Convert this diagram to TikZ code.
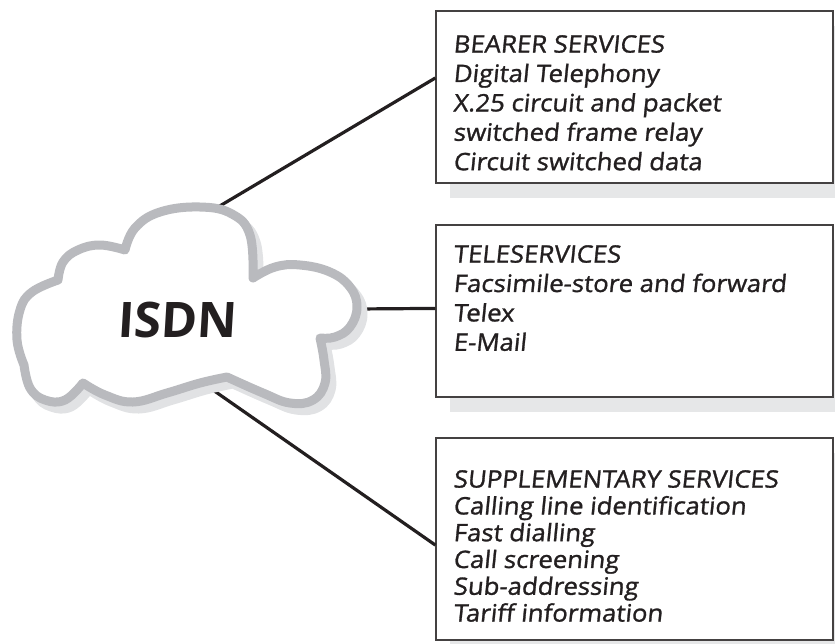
\documentclass[tikz,border=0pt]{standalone}
\usepackage{fontspec}
\setmainfont{Open Sans}
\newfontfamily\boxfont{Open Sans}[FakeSlant=0.1, FakeBold=1.2, FakeStretch=1.07]
\newfontfamily\bigfont{Open Sans}[FakeSlant=0.06]
\usetikzlibrary{calc}
\definecolor{inkc}{HTML}{231F20}
\definecolor{cloudband}{HTML}{B9BABE}
\definecolor{cloudshadow}{HTML}{E1E2E4}
\definecolor{boxshadow}{HTML}{E6E7E8}
\tikzset{
  svcbox/.style={draw=inkc!85, line width=1.2pt, fill=white, minimum width=397pt, inner sep=0pt},
  svctext/.style={anchor=north west, inner sep=0pt, align=left, text=inkc,
     font=\boxfont\fontsize{24}{29.4}\selectfont},
  conn/.style={draw=inkc, line width=3.2pt},
}
\def\cloudpath{(58,280)
 -- plot[smooth, tension=0.7] coordinates {(58,280) (63,262) (78,250) (100,245) (125,250)}
 -- plot[smooth, tension=0.7] coordinates {(125,250) (135,228) (160,212) (200,207) (232,214) (250,235) (253,278)}
 -- plot[smooth, tension=0.7] coordinates {(253,278) (275,267) (300,265) (330,272) (350,287) (357,307) (350,327) (335,337) (320,338)}
 -- plot[smooth, tension=0.7] coordinates {(320,338) (324,360) (325,383) (313,400) (290,403) (263,393) (227,377)}
 -- plot[smooth, tension=0.7] coordinates {(227,377) (200,383) (167,393) (133,402) (105,395) (83,383)}
 -- plot[smooth, tension=0.7] coordinates {(83,383) (65,400) (45,400) (30,388) (24,365)}
 -- plot[smooth, tension=0.7] coordinates {(24,365) (17,340) (20,310) (32,292) (58,280)}
 -- cycle}
\begin{document}
\begin{tikzpicture}[x=1pt,y=-1pt]
\useasboundingbox (0,0) rectangle (835,643);
% box shadows
\fill[boxshadow] (450,26) rectangle (835,198);
\fill[boxshadow] (450,240) rectangle (835,412);
\fill[boxshadow] (450,453) rectangle (835,655);
% boxes
\node[svcbox, minimum height=172pt] (b1) at (634.5,97) {};
\node[svcbox, minimum height=172pt] (b2) at (634.5,311) {};
\node[svcbox, minimum height=202pt] (b3) at (634.5,539) {};
% cloud anchors
\coordinate (c1) at (213,210);
\coordinate (c2) at (356,309);
\coordinate (c3) at (213,390);
\coordinate (e1) at ($(b1.north west)!0.39!(b1.south west)$);
\coordinate (e2) at ($(b2.north west)!0.485!(b2.south west)$);
\coordinate (e3) at ($(b3.north west)!0.53!(b3.south west)$);
% connectors
\draw[conn] (c1) -- (e1);
\draw[conn] (c2) -- (e2);
\draw[conn] (c3) -- (e3);
% cloud shadow
\begin{scope}[shift={(6,7)}]
\draw[cloudshadow, line width=9pt, line join=round, fill=cloudshadow] \cloudpath;
\end{scope}
% cloud
\draw[cloudband, line width=9pt, line join=round, fill=white] \cloudpath;
\node[text=inkc, font=\bigfont\bfseries\fontsize{49}{52}\selectfont, inner sep=0pt] (isdn) at (177,320) {ISDN};
% texts
\node[svctext] (t1) at (453,35) {BEARER SERVICES\\Digital Telephony\\X.25 circuit and packet\\switched frame relay\\Circuit switched data};
\node[svctext] (t2) at (453,245) {TELESERVICES\\Facsimile-store and forward\\Telex\\E-Mail};
\node[svctext, font=\boxfont\fontsize{24}{26.8}\selectfont] (t3) at (453,470) {SUPPLEMENTARY SERVICES\\Calling line identification\\Fast dialling\\Call screening\\Sub-addressing\\Tariff information};
\end{tikzpicture}
\end{document}
